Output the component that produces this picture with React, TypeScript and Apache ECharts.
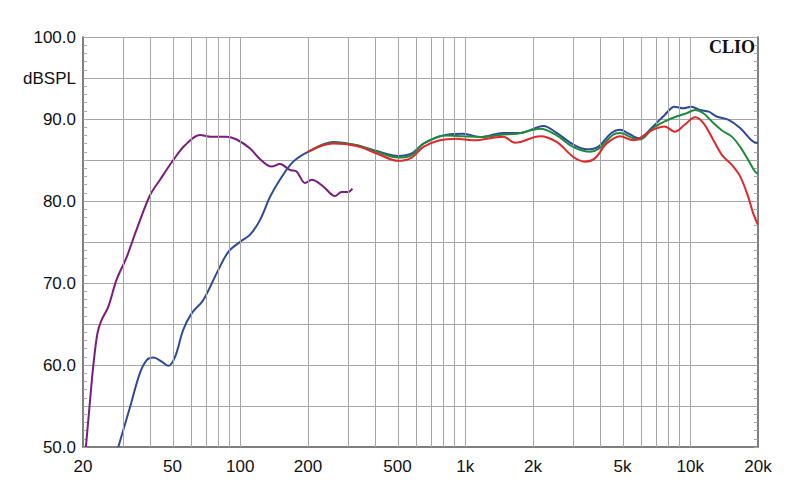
import React, { useEffect, useRef } from "react";
import * as echarts from "echarts";

// Purple curve (near-field woofer/port)
const purpleFreq = [20.6, 21.5, 22.2, 23.2, 24.2, 25.9, 28.2, 31.3, 34.6, 39.7, 44.0, 50.4, 56.8, 66.2, 73.4, 87, 96.4, 110.6, 122.5, 137.8, 150, 166, 178, 194, 208, 233, 264, 282, 302, 315];
const purpleDb = [50.0, 55.7, 59.8, 63.9, 65.5, 67.1, 70.4, 73.2, 76.5, 80.7, 82.6, 85.0, 86.8, 88.05, 87.85, 87.85, 87.5, 86.4, 85.1, 84.2, 84.5, 83.8, 83.6, 82.2, 82.6, 81.8, 80.6, 81.1, 81.1, 81.5];

// Blue curve (on-axis, full range)
const blueFreq = [28.7, 32.4, 35.8, 38.4, 41.1, 44.8, 47.9, 51.3, 55.8, 60.8, 68.4, 78.6, 88.5, 99.7, 110.6, 122.5, 135.6, 150, 172, 200, 259, 329, 404, 504, 578, 652, 814, 980, 1166, 1475, 1752, 2225, 2548, 3012, 3470, 3890, 4460, 4875, 5300, 5890, 6840, 7700, 8520, 9300, 10120, 11040, 12080, 13100, 14800, 16660, 18700, 19700, 20000];
const blueDb = [50.0, 54.9, 59.0, 60.6, 60.9, 60.4, 59.9, 61.0, 64.3, 66.3, 67.9, 71.2, 73.8, 75.0, 75.9, 77.7, 80.5, 82.6, 84.8, 86.0, 87.2, 86.8, 86.1, 85.5, 85.8, 87.0, 88.05, 88.2, 87.8, 88.3, 88.3, 89.15, 88.3, 86.9, 86.3, 86.6, 88.3, 88.7, 88.25, 87.65, 89.1, 90.5, 91.5, 91.3, 91.5, 91.1, 90.9, 90.3, 89.9, 88.9, 87.4, 87.1, 87.1];

// Green curve
const greenFreq = [200, 259, 329, 404, 504, 578, 652, 814, 980, 1166, 1475, 1696, 2153, 2548, 3012, 3580, 3940, 4520, 4875, 5580, 5980, 6840, 7700, 8680, 9620, 10500, 11440, 12680, 13840, 15300, 16660, 18100, 19380, 20000];
const greenDb = [86.0, 87.1, 86.8, 86.0, 85.3, 85.6, 87.0, 88.0, 87.9, 87.8, 88.1, 88.2, 88.8, 88.0, 86.6, 86.0, 86.4, 88.05, 88.3, 87.65, 87.5, 88.9, 89.7, 90.3, 90.7, 91.1, 90.7, 89.5, 88.6, 87.85, 86.6, 85.0, 83.6, 83.3];

// Red curve
const redFreq = [200, 259, 329, 404, 504, 578, 652, 770, 912, 1084, 1475, 1665, 2153, 2548, 3012, 3388, 3766, 4248, 4875, 5580, 6840, 7700, 8520, 9440, 10500, 11440, 12680, 13840, 15300, 16660, 18100, 19040, 20000];
const redDb = [86.0, 87.0, 86.7, 85.8, 84.9, 85.3, 86.6, 87.4, 87.6, 87.4, 87.85, 87.1, 87.9, 87.2, 85.4, 84.8, 85.2, 87.0, 87.9, 87.4, 88.7, 89.1, 88.45, 89.3, 90.2, 89.5, 87.4, 85.6, 84.4, 83.0, 80.5, 78.5, 77.1];

const xLabelFreqs = [20, 50, 100, 200, 500, 1000, 2000, 5000, 10000, 20000];
const gridFreqs = [30, 40, 50, 60, 70, 80, 90, 100, 200, 300, 400, 500, 600, 700, 800, 900, 1000, 2000, 3000, 4000, 5000, 6000, 7000, 8000, 9000, 10000];

const lg = (f: number) => Math.log10(f);
const pts = (fs: number[], ds: number[]) => fs.map((f, i) => [lg(f), ds[i]]);
const fmtFreq = (f: number) => (f >= 1000 ? `${Math.round(f / 1000)}k` : `${Math.round(f)}`);

export default function App() {
  const ref = useRef<HTMLDivElement>(null);
  useEffect(() => {
    if (!ref.current) return;
    const chart = echarts.init(ref.current, undefined, { renderer: "svg" });
    const gridColor = "#a6a6a6";
    const axisColor = "#7f7f7f";
    const font = "'Liberation Sans', Arial, sans-serif";
    const xMin = lg(20);
    const xMax = lg(20000);
    const lineSeries = (name: string, data: number[][], color: string, z: number) => ({
      name,
      type: "line",
      data,
      showSymbol: false,
      symbol: "none",
      smooth: 0.35,
      z,
      lineStyle: { color, width: 2 },
      silent: true,
    });
    chart.setOption({
      animation: false,
      backgroundColor: "#ffffff",
      grid: { left: 83, right: 42, top: 37, bottom: 57, containLabel: false },
      xAxis: {
        type: "value",
        min: xMin,
        max: xMax,
        axisLine: { show: true, onZero: false, lineStyle: { color: axisColor, width: 2 } },
        axisTick: { show: false },
        splitLine: { show: false },
        axisLabel: {
          customValues: xLabelFreqs.map(lg),
          formatter: (v: number) => fmtFreq(Math.pow(10, v)),
          color: "#111",
          fontFamily: font,
          fontSize: 17,
          margin: 11,
          showMinLabel: true,
          showMaxLabel: true,
        },
      },
      yAxis: [
        {
          type: "value",
          min: 50,
          max: 100,
          interval: 5,
          axisLine: { show: true, lineStyle: { color: axisColor, width: 2 } },
          axisTick: { show: true, inside: true, length: 4, lineStyle: { color: gridColor } },
          minorTick: { show: true, splitNumber: 5, length: 4, lineStyle: { color: gridColor } },
          splitLine: { show: true, lineStyle: { color: gridColor, width: 1 } },
          axisLabel: {
            formatter: (v: number) => (v === 95 ? "dBSPL" : v % 10 === 0 ? v.toFixed(1) : ""),
            color: "#111",
            fontFamily: font,
            fontSize: 17,
            margin: 7,
          },
        },
        {
          type: "value",
          position: "right",
          min: 50,
          max: 100,
          interval: 5,
          axisLine: { show: true, lineStyle: { color: axisColor, width: 2 } },
          axisTick: { show: true, inside: true, length: 4, lineStyle: { color: gridColor } },
          minorTick: { show: true, splitNumber: 5, length: 4, lineStyle: { color: gridColor } },
          splitLine: { show: false },
          axisLabel: { show: false },
        },
      ],
      graphic: [
        {
          type: "text",
          right: 45,
          top: 38,
          style: {
            text: "CLIO",
            fill: "#111",
            font: "bold 18px 'Liberation Serif', 'Times New Roman', serif",
          },
        },
      ],
      series: [
        {
          name: "grid",
          type: "line",
          data: [],
          z: 1,
          silent: true,
          markLine: {
            silent: true,
            symbol: ["none", "none"],
            animation: false,
            label: { show: false },
            lineStyle: { color: gridColor, width: 1, type: "solid" },
            data: gridFreqs.map((f) => ({ xAxis: lg(f) })),
          },
        },
        lineSeries("purple", pts(purpleFreq, purpleDb), "#7b1c7c", 3),
        lineSeries("blue", pts(blueFreq, blueDb), "#2d4a98", 4),
        lineSeries("green", pts(greenFreq, greenDb), "#1f8a3c", 5),
        lineSeries("red", pts(redFreq, redDb), "#e0282a", 6),
      ],
    });
    return () => chart.dispose();
  }, []);
  return (
    <div
      ref={ref}
      style={{ position: "fixed", left: 0, top: 0, width: 800, height: 504, background: "#fff" }}
    />
  );
}
